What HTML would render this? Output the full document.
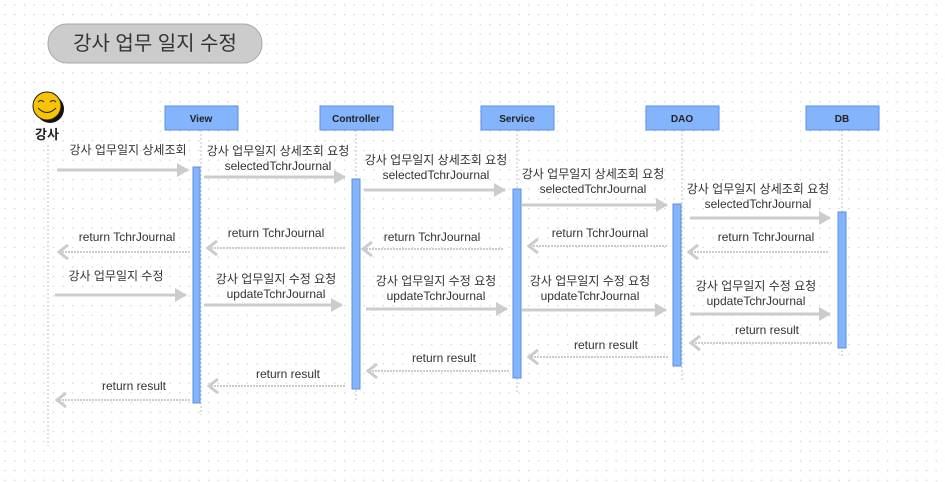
<!DOCTYPE html>
<html><head><meta charset="utf-8"><style>
html,body{margin:0;padding:0;background:#fff}
svg{display:block}
text{font-family:"Liberation Sans","Noto Sans CJK KR",sans-serif;fill:#333;font-size:12px}
</style></head><body>
<svg width="945" height="482" viewBox="0 0 945 482" xmlns="http://www.w3.org/2000/svg">
<defs>
<pattern id="g" x="0" y="0" width="9.7" height="9.7" patternUnits="userSpaceOnUse">
<circle cx="5" cy="5" r="0.7" fill="#cfcfcf"/></pattern>
<marker id="a" viewBox="0 0 12 14" refX="11" refY="7" markerWidth="12" markerHeight="14" markerUnits="userSpaceOnUse" orient="auto"><path d="M0,0 L12,7 L0,14 Z" fill="#cccccc"/></marker>
<marker id="r" viewBox="0 0 12 16" refX="10" refY="8" markerWidth="12" markerHeight="16" markerUnits="userSpaceOnUse" orient="auto"><path d="M1,1 L10,8 L1,15" fill="none" stroke="#cccccc" stroke-width="3"/></marker>
</defs>
<rect width="945" height="482" fill="url(#g)"/>
<rect x="48" y="24" width="214" height="39" rx="19" fill="#cccccc" stroke="#a8a8a8" stroke-width="1"/>
<text x="155" y="50" text-anchor="middle" style="font-size:20px;fill:#333">강사 업무 일지 수정</text>
<circle cx="50" cy="109" r="14" fill="#111"/>
<circle cx="47" cy="106" r="14" fill="#f8c300" stroke="#222" stroke-width="1"/>
<path d="M38,102 q3,-3 6,0 M50,102 q3,-3 6,0" fill="none" stroke="#222" stroke-width="1"/>
<path d="M38,108 q9,9 18,0" fill="none" stroke="#222" stroke-width="1"/>
<text x="47" y="139" text-anchor="middle" style="font-weight:bold;font-size:13px;fill:#222">강사</text>
<g stroke="#cccccc" stroke-width="1.2" stroke-dasharray="2,2" fill="none">
<line x1="48" y1="145" x2="48" y2="446"/>
<line x1="201" y1="130" x2="201" y2="415"/>
<line x1="356" y1="130" x2="356" y2="400"/>
<line x1="517" y1="130" x2="517" y2="392"/>
<line x1="682" y1="130" x2="682" y2="382"/>
<line x1="842" y1="130" x2="842" y2="357"/>
</g>
<g fill="#84b4fb" stroke="#5a8fe0" stroke-width="1">
<rect x="165" y="106" width="73" height="24"/>
<rect x="320" y="106" width="73" height="24"/>
<rect x="481" y="106" width="73" height="24"/>
<rect x="646" y="106" width="73" height="24"/>
<rect x="806" y="106" width="73" height="24"/>
<rect x="193" y="167" width="7" height="236"/>
<rect x="352" y="179" width="8" height="210"/>
<rect x="513" y="189" width="8" height="189"/>
<rect x="673" y="204" width="8" height="162"/>
<rect x="838" y="212" width="8" height="136"/>
</g>
<g text-anchor="middle">
<text x="201" y="122" style="font-size:10px;font-weight:bold;fill:#222">View</text>
<text x="356" y="122" style="font-size:10px;font-weight:bold;fill:#222">Controller</text>
<text x="517" y="122" style="font-size:10px;font-weight:bold;fill:#222">Service</text>
<text x="682" y="122" style="font-size:10px;font-weight:bold;fill:#222">DAO</text>
<text x="842" y="122" style="font-size:10px;font-weight:bold;fill:#222">DB</text>
</g>
<g stroke="#cccccc" stroke-width="3" fill="none" marker-end="url(#a)">
<line x1="57" y1="170" x2="188" y2="170"/>
<line x1="204" y1="177" x2="345" y2="177"/>
<line x1="364" y1="190" x2="505" y2="190"/>
<line x1="522" y1="205" x2="667" y2="205"/>
<line x1="690" y1="218" x2="830" y2="218"/>
<line x1="55" y1="295" x2="186" y2="295"/>
<line x1="204" y1="305" x2="342" y2="305"/>
<line x1="366" y1="309" x2="507" y2="309"/>
<line x1="522" y1="310" x2="666" y2="310"/>
<line x1="690" y1="314" x2="830" y2="314"/>
</g>
<g stroke="#cccccc" stroke-width="2" stroke-dasharray="2,1" fill="none" marker-end="url(#r)">
<line x1="828" y1="252" x2="689" y2="252"/>
<line x1="667" y1="246" x2="529" y2="246"/>
<line x1="503" y1="249" x2="363" y2="249"/>
<line x1="345" y1="248" x2="208" y2="248"/>
<line x1="190" y1="252" x2="59" y2="252"/>
<line x1="832" y1="343" x2="691" y2="343"/>
<line x1="668" y1="357" x2="529" y2="357"/>
<line x1="509" y1="371" x2="368" y2="371"/>
<line x1="345" y1="386" x2="209" y2="386"/>
<line x1="190" y1="400" x2="57" y2="400"/>
</g>
<g text-anchor="middle">
<text x="128" y="154">강사 업무일지 상세조회</text>
<text x="278" y="155">강사 업무일지 상세조회 요청</text><text x="278" y="170">selectedTchrJournal</text>
<text x="436" y="164">강사 업무일지 상세조회 요청</text><text x="436" y="179">selectedTchrJournal</text>
<text x="593" y="178">강사 업무일지 상세조회 요청</text><text x="593" y="193">selectedTchrJournal</text>
<text x="758" y="193">강사 업무일지 상세조회 요청</text><text x="758" y="208">selectedTchrJournal</text>
<text x="766" y="241">return TchrJournal</text>
<text x="600" y="237">return TchrJournal</text>
<text x="432" y="241">return TchrJournal</text>
<text x="276" y="237">return TchrJournal</text>
<text x="127" y="241">return TchrJournal</text>
<text x="116" y="280">강사 업무일지 수정</text>
<text x="276" y="283">강사 업무일지 수정 요청</text><text x="276" y="298">updateTchrJournal</text>
<text x="436" y="285">강사 업무일지 수정 요청</text><text x="436" y="300">updateTchrJournal</text>
<text x="590" y="285">강사 업무일지 수정 요청</text><text x="590" y="300">updateTchrJournal</text>
<text x="756" y="290">강사 업무일지 수정 요청</text><text x="756" y="305">updateTchrJournal</text>
<text x="767" y="334">return result</text>
<text x="606" y="349">return result</text>
<text x="444" y="362">return result</text>
<text x="288" y="378">return result</text>
<text x="134" y="390">return result</text>
</g>
</svg>
</body></html>
